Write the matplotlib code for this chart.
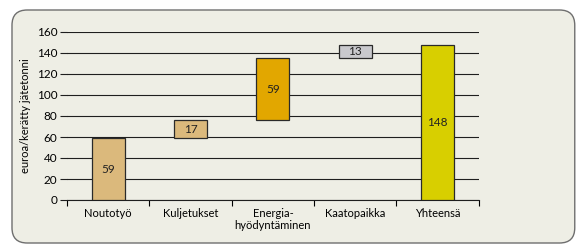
import matplotlib.pyplot as plt
from matplotlib.patches import FancyBboxPatch

categories = ['Noutotyö', 'Kuljetukset', 'Energia-\nhyödyntäminen', 'Kaatopaikka', 'Yhteensä']
values = [59, 17, 59, 13, 148]
bottoms = [0, 59, 76, 135, 0]
colors = ['#dbb97c', '#dbb97c', '#e2a700', '#c9c9cd', '#d8cf00']

plt.rcParams['font.family'] = ['Lato', 'DejaVu Sans']

fig = plt.figure(figsize=(5.85, 2.5), dpi=100)
fig.patch.set_facecolor('white')

# rounded frame behind the chart
box = FancyBboxPatch((0.0205, 0.028), 0.962, 0.932,
                     boxstyle='round,pad=0,rounding_size=0.026',
                     transform=fig.transFigure, facecolor='#eeeee5',
                     edgecolor='#6f6f6f', linewidth=1.0, mutation_aspect=2.34,
                     zorder=-5)
fig.add_artist(box)

ax = fig.add_axes([0.1145, 0.2, 0.704, 0.672])
ax.set_facecolor('none')
ax.set_zorder(2)

x = list(range(len(categories)))
ax.bar(x, values, bottom=bottoms, width=0.4, color=colors,
       edgecolor='#2a2a2a', linewidth=0.9, zorder=3)
for xi, v, b in zip(x, values, bottoms):
    ax.text(xi, b + v / 2, str(v), ha='center', va='center', fontsize=8.5,
            color='#222222', zorder=4)

ax.set_xlim(-0.5, 4.5)
ax.set_ylim(0, 160)
ax.set_yticks(range(0, 161, 20))
ax.yaxis.grid(True, color='#1e1e1e', linewidth=0.8, zorder=1)
ax.tick_params(axis='y', length=5, width=0.8, color='#1e1e1e', labelsize=8.5, pad=2)

ax.set_xticks([i - 0.5 for i in range(6)])
ax.set_xticklabels([])
ax.set_xticks(x, minor=True)
ax.set_xticklabels(categories, minor=True, fontsize=8, linespacing=1.1)
ax.tick_params(axis='x', which='major', length=4, width=0.8, direction='out')
ax.tick_params(axis='x', which='minor', length=0, pad=6)

for s in ['top', 'right', 'left']:
    ax.spines[s].set_visible(False)
ax.spines['bottom'].set_linewidth(0.8)
ax.spines['bottom'].set_color('#1e1e1e')

ax.set_ylabel('euroa/kerätty jätetonni', fontsize=8, labelpad=4)

plt.savefig('out.png', dpi=100)
plt.close(fig)
